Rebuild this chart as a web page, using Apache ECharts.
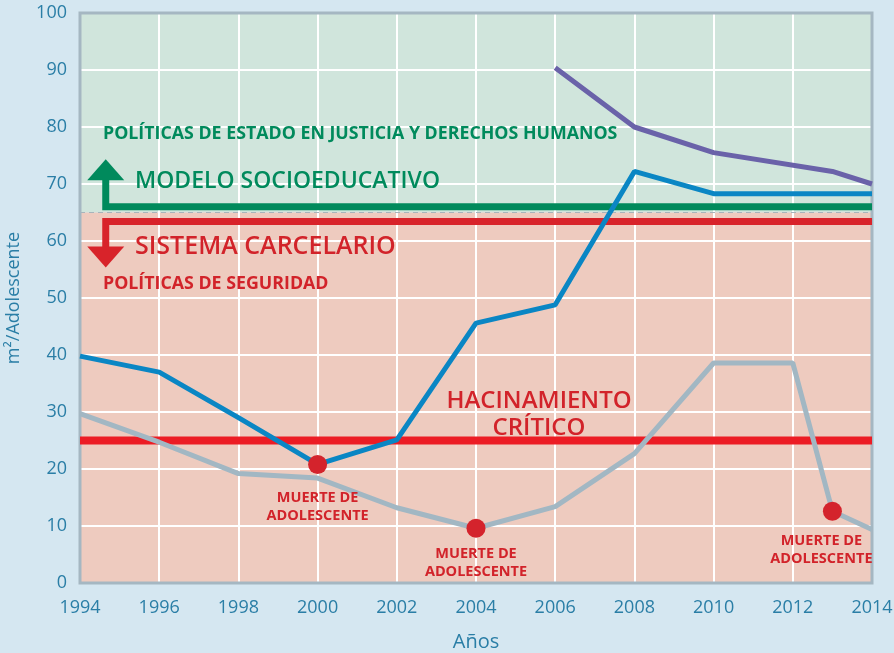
<!DOCTYPE html>
<html><head><meta charset="utf-8">
<script src="https://cdn.jsdelivr.net/npm/echarts@6/dist/echarts.min.js"></script>
<style>html,body{margin:0;padding:0;background:#d5e7f1;}#c{width:894px;height:653px;}</style>
</head><body><div id="c"></div>
<script>
const xTicks = [1994,1996,1998,2000,2002,2004,2006,2008,2010,2012,2014];
const purpleYears = [2006,2008,2010,2013,2014];
const purpleVals  = [90.4,80,75.5,72.2,70];
const blueYears = [1994,1996,1998,2000,2002,2004,2006,2008,2010,2012,2014];
const blueVals  = [39.8,37,29,20.8,25.1,45.6,48.8,72.2,68.3,68.3,68.3];
const grayYears = [1994,1996,1998,2000,2002,2004,2006,2008,2010,2012,2013,2014];
const grayVals  = [29.7,24.7,19.2,18.4,13.2,9.6,13.4,22.7,38.6,38.6,12.6,9.4];
const deathYears = [2000,2004,2013];
const deathVals  = [20.8,9.6,12.6];
const deathLabel = 'MUERTE DE\nADOLESCENTE';
const critical = 25;
const boundary = 65;
const socioLevel = 66;
const carcelLevel = 63.4;
const arrowX = 1994.65;
const greenStemTop = 70.7, greenHead = 72.5;
const redStemBottom = 58.9, redHead = 57.2;

const zip = (a,b)=>a.map((v,i)=>[v,b[i]]);
const RED='#d2232a', GREEN='#008a5c', TICK='#2a7ea6';
const labelOffsets = [[0,10],[0,2],[-11,6.5]];

const chart = echarts.init(document.getElementById('c'));
chart.setOption({
  backgroundColor:'#d5e7f1',
  animation:false,
  grid:{left:80,right:22,top:13,bottom:70,outerBoundsMode:'none',containLabel:false,show:true,borderColor:'#a5b7c2',borderWidth:3,backgroundColor:'transparent',z:3},
  xAxis:{type:'value',min:1994,max:2014,interval:2,
    name:'Años',nameLocation:'middle',nameGap:49,
    nameTextStyle:{color:TICK,fontSize:20,fontFamily:'Open Sans'},
    axisLine:{show:false},axisTick:{show:false},
    axisLabel:{color:TICK,fontSize:18,fontFamily:'Open Sans',margin:16,formatter:v=>String(v)},
    splitLine:{show:true,lineStyle:{color:'#ffffff',width:2}}},
  yAxis:{type:'value',min:0,max:100,interval:10,
    name:'m²/Adolescente',nameLocation:'middle',nameGap:57,
    nameTextStyle:{color:TICK,fontSize:18,fontFamily:'Open Sans'},
    axisLine:{show:false},axisTick:{show:false},
    axisLabel:{color:TICK,fontSize:18,fontFamily:'Open Sans',margin:13},
    splitLine:{show:true,lineStyle:{color:'#ffffff',width:2}}},
  series:[
    {type:'line',data:[],z:-1,silent:true,
      markArea:{silent:true,z:-1,data:[
        [{yAxis:boundary,itemStyle:{color:'#d0e5dc'}},{yAxis:100}],
        [{yAxis:0,itemStyle:{color:'#eecbbf'}},{yAxis:boundary}]
      ]},
      markLine:{silent:true,symbol:'none',z:1,label:{show:false},
        lineStyle:{color:'#a7b4bb',type:[5,4],width:1.2},data:[{yAxis:boundary}]}
    },
    {type:'line',data:[[1994,critical],[2014,critical]],symbol:'none',z:3,
      lineStyle:{color:'#ec1c24',width:8,cap:'butt'}},
    {type:'line',data:[[arrowX,greenStemTop],[arrowX,socioLevel],[2014,socioLevel]],symbol:'none',z:3,
      lineStyle:{color:'#008a5c',width:7,join:'miter'}},
    {type:'line',data:[[arrowX,redStemBottom],[arrowX,carcelLevel],[2014,carcelLevel]],symbol:'none',z:3,
      lineStyle:{color:'#d8232a',width:7,join:'miter'}},
    {type:'scatter',data:[[arrowX,greenHead]],symbol:'triangle',symbolSize:[37,21],z:3,
      itemStyle:{color:'#008a5c',opacity:1}},
    {type:'scatter',data:[[arrowX,redHead]],symbol:'triangle',symbolRotate:180,symbolSize:[37,21],z:3,
      itemStyle:{color:'#d8232a',opacity:1}},
    {type:'line',data:zip(grayYears,grayVals),symbol:'none',z:4,
      lineStyle:{color:'#a2b7c3',width:5}},
    {type:'line',data:zip(blueYears,blueVals),symbol:'none',z:5,
      lineStyle:{color:'#0a86c4',width:5}},
    {type:'line',data:zip(purpleYears,purpleVals),symbol:'none',z:5,
      lineStyle:{color:'#6a62a9',width:5}},
    {type:'scatter',z:6,symbolSize:19,itemStyle:{color:'#d4232c',opacity:1},
      data:zip(deathYears,deathVals).map((p,i)=>({value:p,label:{show:true,position:'bottom',
        offset:labelOffsets[i],formatter:deathLabel,color:RED,fontSize:14.5,fontWeight:'bold',
        fontFamily:'Open Sans',lineHeight:18,align:'center'}}))}
  ],
  graphic:[
    {type:'text',left:103,top:125,z:10,style:{text:'POLÍTICAS DE ESTADO EN JUSTICIA Y DERECHOS HUMANOS',fill:GREEN,font:'bold 17.8px "Open Sans"'}},
    {type:'text',left:135,top:170,z:10,style:{text:'MODELO SOCIOEDUCATIVO',fill:GREEN,font:'600 23px "Open Sans"'}},
    {type:'text',left:135,top:234,z:10,style:{text:'SISTEMA CARCELARIO',fill:RED,font:'600 25px "Open Sans"'}},
    {type:'text',left:103,top:275,z:10,style:{text:'POLÍTICAS DE SEGURIDAD',fill:RED,font:'bold 17.8px "Open Sans"'}},
    {type:'text',x:539,y:388,z:10,style:{text:'HACINAMIENTO\nCRÍTICO',fill:RED,font:'600 24px "Open Sans"',align:'center',lineHeight:27}}
  ]
});
</script></body></html>
